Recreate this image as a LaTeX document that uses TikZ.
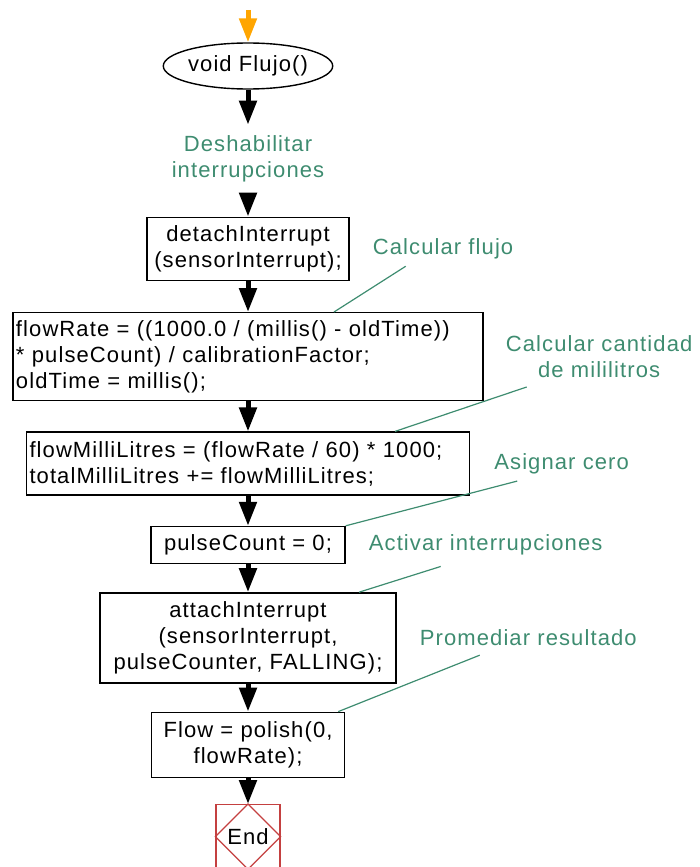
\documentclass[tikz,border=0pt]{standalone}
\usepackage{fontspec}
\setmainfont{Liberation Sans}[LetterSpace=5.0]
\usepackage{xcolor}
\usepackage{tikz}
\usetikzlibrary{positioning, arrows.meta, shapes.geometric}

\definecolor{cmtgreen}{RGB}{62,140,112}
\definecolor{startorange}{RGB}{255,165,0}
\definecolor{endred}{RGB}{196,64,64}
\newcommand{\flowfont}{\fontsize{22pt}{26pt}\selectfont}

\begin{document}
\begin{tikzpicture}[
		x=1pt, y=-1pt,
		node distance=31pt,
		stmt/.style={rectangle, draw, line width=1.4pt, align=center, inner xsep=3pt, inner ysep=2pt, font=\flowfont},
		code/.style={stmt, align=left},
		func/.style={ellipse, draw, line width=1.4pt, minimum width=150pt, minimum height=46pt, inner sep=0pt, font=\flowfont},
		cmt/.style={text=cmtgreen, align=center, inner sep=0pt, font=\flowfont},
		cmtline/.style={draw=cmtgreen, line width=1.2pt},
		flow/.style={line width=5pt, -{Triangle[width=17pt, length=24pt]}},
		endbox/.style={rectangle, draw=endred, line width=1.2pt, minimum size=64pt, inner sep=0pt, font=\flowfont}
		]

		\useasboundingbox (0,0) rectangle (699,867);

		% main chain
		\coordinate (entry) at (248,10);
		\node[func] (flujo) at (248,66) {void Flujo()};
		\node[cmt, inner ysep=11pt, below=35pt of flujo] (deshab) {Deshabilitar\\interrupciones};
		\node[stmt, minimum width=202pt, minimum height=63pt, below=23pt of deshab] (detach) {detachInterrupt\\(sensorInterrupt);};
		\node[code, text width=464pt, minimum height=88pt, below=31pt of detach] (rate) {flowRate = ((1000.0 / (millis() - oldTime))\\{}* pulseCount) / calibrationFactor;\\oldTime = millis();};
		\node[code, text width=437pt, minimum height=63pt, below=30pt of rate] (litres) {flowMilliLitres = (flowRate / 60) * 1000;\\totalMilliLitres += flowMilliLitres;};
		\node[stmt, minimum width=194pt, minimum height=37pt, below=30pt of litres] (reset) {pulseCount = 0;};
		\node[stmt, minimum width=296pt, minimum height=90pt, below=28pt of reset] (attach) {attachInterrupt\\(sensorInterrupt,\\pulseCounter, FALLING);};
		\node[stmt, minimum width=193pt, minimum height=65pt, below=28pt of attach] (polish) {Flow = polish(0,\\flowRate);};
		\node[endbox, below=26pt of polish] (fin) {End};
		\draw[endred, line width=1.2pt] (fin.north) -- (fin.east) -- (fin.south) -- (fin.west) -- cycle;

		\draw[flow, startorange] (entry) -- (flujo);
		\draw[flow] (flujo) -- (deshab);
		\draw[flow] (deshab) -- (detach);
		\draw[flow] (detach) -- (rate);
		\draw[flow] (rate) -- (litres);
		\draw[flow] (litres) -- (reset);
		\draw[flow] (reset) -- (attach);
		\draw[flow] (attach) -- (polish);
		\draw[flow] (polish) -- (fin);

		% comments on the right
		\node[cmt, right=23pt of detach] (c1) {Calcular flujo};
		\node[cmt, right=22pt of rate] (c2) {Calcular cantidad\\de mililitros};
		\node[cmt, right=24pt of litres] (c3) {Asignar cero};
		\node[cmt, right=23pt of reset] (c4) {Activar interrupciones};
		\node[cmt, right=23pt of attach] (c5) {Promediar resultado};

		\draw[cmtline] ([xshift=33pt,yshift=-7pt]c1.south west) -- ([xshift=86pt]rate.north);
		\draw[cmtline] ([xshift=21pt,yshift=-9pt]c2.south west) -- ([xshift=147pt]litres.north);
		\draw[cmtline] ([xshift=23pt,yshift=-7pt]c3.south west) -- (reset.north east);
		\draw[cmtline] ([xshift=72pt,yshift=-11pt]c4.south west) -- ([xshift=111pt]attach.north);
		\draw[cmtline] ([xshift=60pt,yshift=-9pt]c5.south west) -- ([xshift=-7pt]polish.north east);
	\end{tikzpicture}
\end{document}
